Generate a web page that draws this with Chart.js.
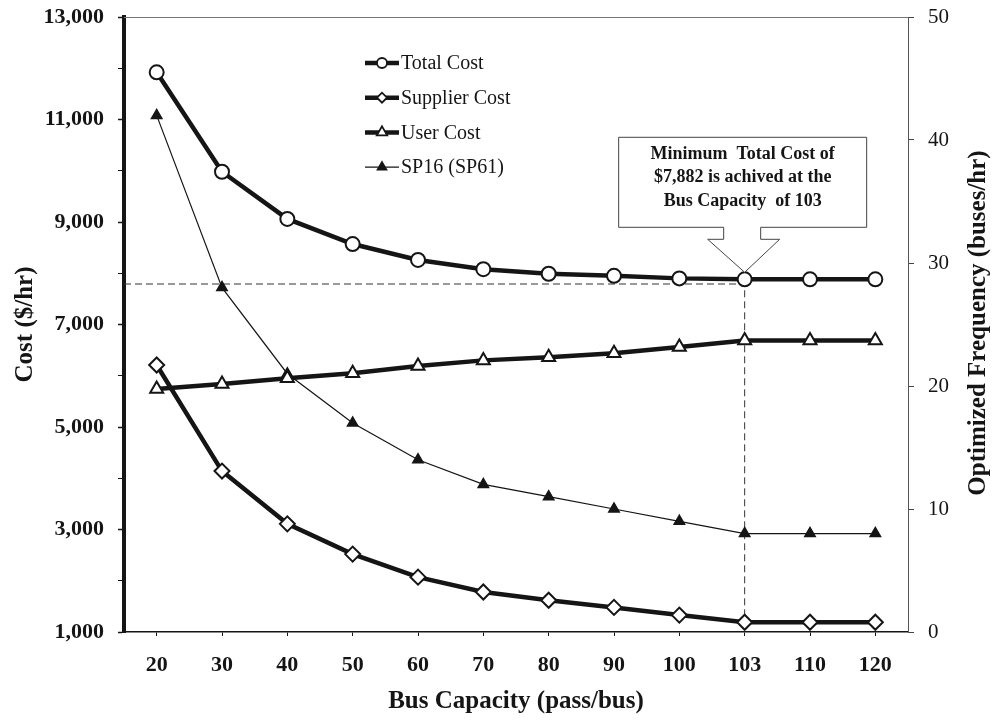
<!DOCTYPE html>
<html lang="en">
<head>
  <meta charset="UTF-8">
  <title>Bus Capacity vs Cost</title>
  <script src="https://cdn.jsdelivr.net/npm/chart.js"></script>
  <style>
    html, body { margin: 0; padding: 0; background: #fff; }
    .wrap { width: 996px; height: 721px; position: relative; }
  </style>
</head>
<body>
  <div class="wrap"><canvas id="costChart"></canvas></div>

  <script>
    // Data
    const capacities = ['20', '30', '40', '50', '60', '70', '80', '90', '100', '103', '110', '120'];
    const totalCost = [11920, 9980, 9060, 8570, 8260, 8080, 7990, 7950, 7900, 7882, 7882, 7882];
    const supplierCost = [6210, 4140, 3110, 2520, 2070, 1780, 1620, 1480, 1330, 1190, 1190, 1190];
    const userCost = [5740, 5840, 5950, 6050, 6190, 6300, 6360, 6440, 6560, 6690, 6690, 6690];
    const frequency = [42, 28, 21, 17, 14, 12, 11, 10, 9, 8, 8, 8];
    const costRange = [1000, 13000];
    const freqRange = [0, 50];
    const minIndex = 9;        // bus capacity 103
    const guideCost = 7790;    // horizontal dashed guide as drawn
    const calloutLines = ['Minimum  Total Cost of', '$7,882 is achived at the', 'Bus Capacity  of 103'];

    const serif = "'Liberation Serif', 'Times New Roman', serif";
    const ink = '#151515';

    const legendItems = [
      { label: 'Total Cost', style: 'circle', r: 5, fill: '#fff', width: 4.5 },
      { label: 'Supplier Cost', style: 'rectRot', r: 5, fill: '#fff', width: 4.5 },
      { label: 'User Cost', style: 'triangle', r: 6, fill: '#fff', width: 4.5 },
      { label: 'SP16 (SP61)', style: 'triangle', r: 5, fill: ink, width: 1.2 }
    ];

    const extras = {
      id: 'extras',
      beforeDatasetsDraw(chart) {
        const { ctx, chartArea: a, scales: { x, y } } = chart;
        ctx.save();
        // thin frame on top
        ctx.strokeStyle = '#777';
        ctx.lineWidth = 1;
        ctx.beginPath();
        ctx.moveTo(a.left, a.top + 0.5);
        ctx.lineTo(a.right, a.top + 0.5);
        ctx.stroke();
        // dashed guides to the minimum
        const px = x.getPixelForValue(minIndex);
        const py = y.getPixelForValue(guideCost);
        ctx.setLineDash([7, 4]);
        ctx.strokeStyle = '#333';
        ctx.beginPath();
        ctx.moveTo(a.left, py);
        ctx.lineTo(px, py);
        ctx.moveTo(px, y.getPixelForValue(totalCost[minIndex]));
        ctx.lineTo(px, a.bottom);
        ctx.stroke();
        ctx.restore();
      },
      afterDraw(chart) {
        const { ctx } = chart;
        ctx.save();

        // legend inside the plot
        legendItems.forEach((it, i) => {
          const yy = 63 + i * 34.7;
          ctx.strokeStyle = ink;
          ctx.lineWidth = it.width;
          ctx.beginPath();
          ctx.moveTo(365, yy);
          ctx.lineTo(399, yy);
          ctx.stroke();
          ctx.fillStyle = it.fill;
          ctx.lineWidth = 1.8;
          Chart.helpers.drawPoint(ctx, { pointStyle: it.style, radius: it.r, rotation: 0, borderWidth: 1.8 }, 382, yy);
          ctx.fillStyle = ink;
          ctx.font = '20px ' + serif;
          ctx.textAlign = 'left';
          ctx.textBaseline = 'middle';
          ctx.fillText(it.label, 401, yy + 1);
        });

        // callout arrow box pointing at the minimum
        const p = chart.getDatasetMeta(0).data[minIndex];
        const tx = p.x, ty = p.y - 7;
        ctx.beginPath();
        ctx.moveTo(tx - 126, ty - 135);
        ctx.lineTo(tx + 122, ty - 135);
        ctx.lineTo(tx + 122, ty - 45);
        ctx.lineTo(tx + 16, ty - 45);
        ctx.lineTo(tx + 16, ty - 33);
        ctx.lineTo(tx + 35, ty - 33);
        ctx.lineTo(tx, ty);
        ctx.lineTo(tx - 37, ty - 33);
        ctx.lineTo(tx - 21, ty - 33);
        ctx.lineTo(tx - 21, ty - 45);
        ctx.lineTo(tx - 126, ty - 45);
        ctx.closePath();
        ctx.fillStyle = '#fff';
        ctx.fill();
        ctx.strokeStyle = '#444';
        ctx.lineWidth = 1;
        ctx.stroke();
        ctx.fillStyle = ink;
        ctx.font = 'bold 18px ' + serif;
        ctx.textAlign = 'center';
        ctx.textBaseline = 'middle';
        calloutLines.forEach((t, i) => ctx.fillText(t, tx - 2, ty - 118 + i * 23.5));

        // right axis title, reads bottom to top
        ctx.translate(979, 323);
        ctx.rotate(-Math.PI / 2);
        ctx.font = 'bold 25px ' + serif;
        ctx.fillText('Optimized Frequency (buses/hr)', 0, 0);
        ctx.restore();
      }
    };

    const line = (label, data, axis, style, radius, fill, width) => ({
      label, data, yAxisID: axis,
      borderColor: ink, borderWidth: width,
      pointStyle: style, pointRadius: radius,
      pointBackgroundColor: fill, pointBorderColor: ink, pointBorderWidth: 2,
      tension: 0
    });

    // vertical axes: fixed width, and no extra top/bottom padding from label halves
    const fixWidth = w => s => { s.width = w; s.paddingTop = 0; s.paddingBottom = 0; };

    new Chart(document.getElementById('costChart'), {
      type: 'line',
      data: {
        labels: capacities,
        datasets: [
          line('Total Cost', totalCost, 'y', 'circle', 7, '#fff', 4.5),
          line('Supplier Cost', supplierCost, 'y', 'rectRot', 7.5, '#fff', 4.5),
          line('User Cost', userCost, 'y', 'triangle', 7.5, '#fff', 4.5),
          line('SP16 (SP61)', frequency, 'y1', 'triangle', 5.5, ink, 1.2)
        ]
      },
      options: {
        responsive: true,
        maintainAspectRatio: false,
        animation: false,
        layout: { padding: { top: 17, left: 0, right: 0, bottom: 0 } },
        plugins: { legend: { display: false }, tooltip: { enabled: false } },
        scales: {
          x: {
            offset: true,
            grid: { drawOnChartArea: false, offset: false, tickLength: 4, color: ink },
            border: { color: ink, width: 1.5 },
            ticks: { color: ink, padding: 16, maxRotation: 0, autoSkip: false,
              font: { family: serif, size: 22, weight: 'bold' } },
            title: { display: true, text: 'Bus Capacity (pass/bus)', color: ink,
              font: { family: serif, size: 25, weight: 'bold' }, padding: { top: 4, bottom: 4 } },
            afterFit(s) { s.height = 89; }
          },
          y: {
            position: 'left',
            min: costRange[0],
            max: costRange[1],
            grid: { drawOnChartArea: false, tickLength: 6, color: ink,
              tickWidth: c => (c.tick && (c.tick.value / 1000) % 2 === 1) ? 1.5 : 1 },
            border: { color: ink, width: 4 },
            ticks: { stepSize: 1000, color: ink, padding: 14,
              font: { family: serif, size: 22, weight: 'bold' },
              callback: v => (v / 1000) % 2 === 1 ? String(v).replace(/\B(?=(\d{3})+$)/g, ',') : '' },
            title: { display: true, text: 'Cost ($/hr)', color: ink,
              font: { family: serif, size: 25, weight: 'bold' }, padding: { top: 11, bottom: 0 } },
            afterFit: fixWidth(124)
          },
          y1: {
            position: 'right',
            min: freqRange[0],
            max: freqRange[1],
            grid: { drawOnChartArea: false, tickLength: 6, color: '#444' },
            border: { color: '#555', width: 1 },
            ticks: { stepSize: 10, color: ink, padding: 14,
              font: { family: serif, size: 21 } },
            afterFit: fixWidth(88)
          }
        }
      },
      plugins: [extras]
    });
  </script>
</body>
</html>
